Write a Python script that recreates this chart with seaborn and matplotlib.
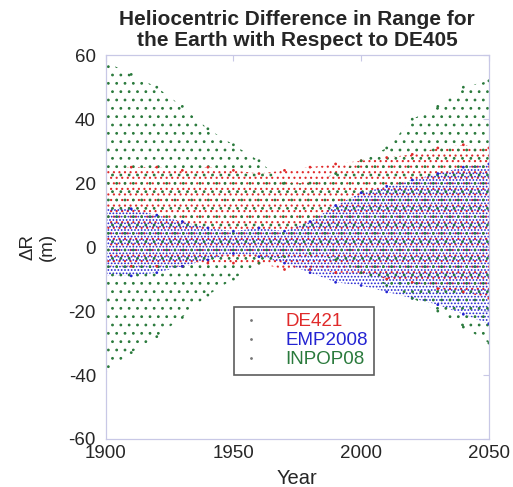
import numpy as np
import pandas as pd
import seaborn as sns
import matplotlib.pyplot as plt
from matplotlib.lines import Line2D

# envelope of each model's difference, every ten years (m)
years = [1900, 1910, 1920, 1930, 1940, 1950, 1960, 1970,
         1980, 1990, 2000, 2010, 2020, 2030, 2040, 2050]

de421_hi = [24, 25, 25, 24, 25, 24, 23, 24, 25, 26, 27, 28, 29, 31, 32, 31]
de421_lo = [-6, -6, -6, -6, -5, -5, -5, -7, -7, -8, -8, -10, -11, -13, -14, -16]

emp2008_hi = [12, 12, 10, 8, 6, 5, 6, 5, 8, 13, 17, 19, 21, 23, 25, 26]
emp2008_lo = [-9, -9, -8, -6, -4, -2, -3, -5, -8, -11, -12, -14, -16, -18, -21, -24]

inpop08_hi = [58, 54, 50, 44, 37, 32, 27, 20, 20, 23, 27, 31, 40, 44, 50, 52]
inpop08_lo = [-39, -33, -28, -22, -15, -10, -5, -3, -2, -4, -8, -12, -16, -20, -25, -30]

models = ["DE421", "EMP2008", "INPOP08"]
colors = {"DE421": "#e02a2a", "EMP2008": "#2424d2", "INPOP08": "#2a7a3c"}
# different dot densities so the three textures don't sit on the same grid
hatches = {"DE421": "...", "EMP2008": ".....", "INPOP08": ".."}

bands = {
    "DE421": (de421_lo, de421_hi),
    "EMP2008": (emp2008_lo, emp2008_hi),
    "INPOP08": (inpop08_lo, inpop08_hi),
}

rows = []
for m in models:
    lo, hi = bands[m]
    for y, a, b in zip(years, lo, hi):
        rows.append((y, a, m))
        rows.append((y, b, m))
df = pd.DataFrame(rows, columns=["year", "dR", "model"])

sns.set_style("white")
plt.rcParams["font.family"] = ["Liberation Sans", "DejaVu Sans"]
plt.rcParams["axes.unicode_minus"] = False
plt.rcParams["hatch.linewidth"] = 0.8

fig = plt.figure(figsize=(5.13, 4.87), dpi=100)
ax = fig.add_axes([0.206, 0.0986, 0.747, 0.788])

for m in models:
    lo, hi = bands[m]
    ax.fill_between(years, lo, hi, facecolor="none", edgecolor=colors[m],
                    hatch=hatches[m], linewidth=0)

sns.scatterplot(data=df, x="year", y="dR", hue="model", palette=colors,
                s=4, linewidth=0, ax=ax, legend=False)

ax.set_xlim(1900, 2050)
ax.set_ylim(-60, 60)
ax.set_xticks([1900, 1950, 2000, 2050])
ax.set_yticks([-60, -40, -20, 0, 20, 40, 60])
ax.tick_params(direction="in", length=4, width=0.8, color="#c8c8e6",
               labelsize=13.5, top=True, right=True)
ax.tick_params(axis="x", pad=4.5)
ax.tick_params(axis="y", pad=7)
for sp in ax.spines.values():
    sp.set_color("#c8c8e6")
    sp.set_linewidth(0.9)

ax.set_xlabel("Year", fontsize=14.5, labelpad=5)
ax.set_ylabel("\u0394R\n(m)", fontsize=13.5, labelpad=9, linespacing=1.2)
ax.set_title("Heliocentric Difference in Range for\nthe Earth with Respect to DE405",
             fontsize=15, fontweight="bold", pad=7, linespacing=1.1)

handles = [Line2D([], [], linestyle="none", marker=".", markersize=2,
                  color="#777777") for m in models]
leg = ax.legend(handles, models, loc="upper left",
                bbox_to_anchor=(0.334, 0.345), fontsize=13.5, frameon=True,
                fancybox=False, handlelength=1.2, handletextpad=1.2,
                borderpad=0.35, labelspacing=0.1, borderaxespad=0)
leg.get_frame().set_edgecolor("#333333")
leg.get_frame().set_linewidth(1.2)
for t, m in zip(leg.get_texts(), models):
    t.set_color(colors[m])

fig.savefig("out.png", dpi=100)
